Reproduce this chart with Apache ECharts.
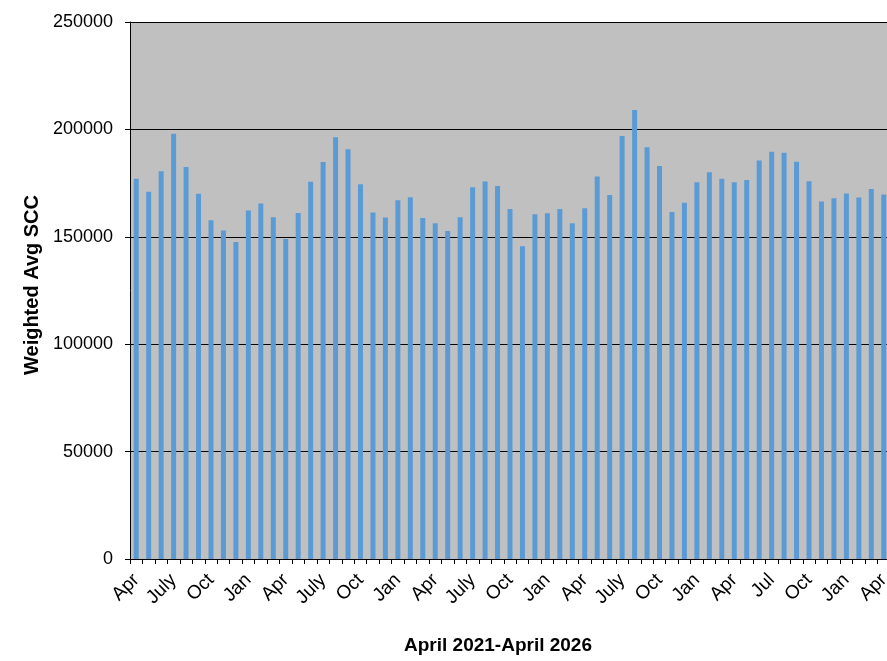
<!DOCTYPE html>
<html lang="en">
<head>
    <meta charset="UTF-8">
    <title>Weighted Avg SCC</title>
    <style>
        body,html{
            width: 887px;
            height: 661px;
            margin: 0;
            background: #fff;
            overflow: hidden;
        }
        #chart{
            width: 887px;
            height: 661px;
        }
    </style>
</head>
<body>

    <div id="chart"></div>

<script src="https://cdn.jsdelivr.net/npm/echarts@6/dist/echarts.min.js"></script>
<script type="text/javascript">

    // months Apr 2021 .. Apr 2026, labels only shown every third month
    let monthNames = ["Apr","May","Jun","July","Aug","Sep","Oct","Nov","Dec","Jan","Feb","Mar",
                      "Apr","May","Jun","July","Aug","Sep","Oct","Nov","Dec","Jan","Feb","Mar",
                      "Apr","May","Jun","July","Aug","Sep","Oct","Nov","Dec","Jan","Feb","Mar",
                      "Apr","May","Jun","July","Aug","Sep","Oct","Nov","Dec","Jan","Feb","Mar",
                      "Apr","May","Jun","Jul","Aug","Sep","Oct","Nov","Dec","Jan","Feb","Mar",
                      "Apr"];

    // weighted avg SCC per month
    let sccValues = [177000,171000,180500,198000,182500,170000,157700,152900,147600,162200,165500,159100,
                     149000,161100,175600,184800,196400,190800,174500,161300,159000,167000,168400,158800,
                     156300,152700,159100,173100,175800,173600,163000,145600,160500,161000,162900,156300,
                     163300,178100,169500,196900,209000,191700,183000,161500,165800,175400,180100,177000,
                     175400,176400,185500,189600,189100,184900,175900,166400,168000,170200,168300,172300,
                     169700];

    let yTicks = [0,50000,100000,150000,200000,250000];

    let chart = echarts.init(document.getElementById("chart"));
    let option = {
        animation: false,
        textStyle: {fontFamily: "Liberation Sans, Arial, sans-serif"},
        grid: {
            left: 130,
            top: 22,
            width: 760,
            bottom: 102,
            outerBoundsMode: "none",
            containLabel: false,
            show: true,
            backgroundColor: "#c0c0c0",
            borderWidth: 0
        },
        xAxis: {
            type: "category",
            data: monthNames,
            name: "April 2021-April 2026",
            nameLocation: "middle",
            nameGap: 77,
            nameTextStyle: {fontSize: 19, fontWeight: "bold", color: "#000", padding: [0, 24, 0, 0]},
            axisLine: {lineStyle: {color: "#000", width: 1}},
            axisTick: {show: true, interval: 0, length: 5, lineStyle: {color: "#000"}},
            axisLabel: {
                interval: 2,
                rotate: 45,
                fontSize: 19,
                color: "#000",
                margin: 18
            }
        },
        yAxis: {
            type: "value",
            min: yTicks[0],
            max: yTicks[yTicks.length - 1],
            interval: 50000,
            name: "Weighted Avg SCC",
            nameLocation: "middle",
            nameGap: 88,
            nameTextStyle: {fontSize: 20, fontWeight: "bold", color: "#000", padding: [0, 0, 0, 11]},
            axisLine: {show: true, lineStyle: {color: "#000"}},
            axisTick: {show: true, length: 5, lineStyle: {color: "#000"}},
            axisLabel: {
                fontSize: 18,
                color: "#000",
                margin: 17,
                formatter: function (v) { return String(v); }
            },
            splitLine: {show: true, lineStyle: {color: "#000", width: 1}}
        },
        series: [
            {
                type: "bar",
                data: sccValues,
                barWidth: 5,
                itemStyle: {color: "#5b9bd5"}
            }
        ]
    };
    chart.setOption(option);
</script>
</body>
</html>
